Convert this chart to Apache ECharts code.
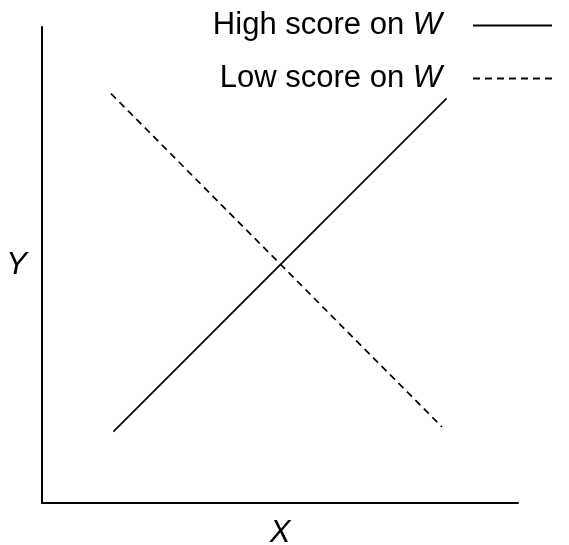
<!DOCTYPE html>
<html>
<head>
<meta charset="utf-8">
<script src="https://cdn.jsdelivr.net/npm/echarts@6/dist/echarts.min.js"></script>
<style>
html,body{margin:0;padding:0;background:#fff;}
#c{width:569px;height:545px;}
</style>
</head>
<body>
<div id="c"></div>
<script>
const seriesNames = ['High score on W', 'Low score on W'];
const highX = [1.5, 8.5];
const highY = [1.5, 8.5];
const lowX = [1.45, 8.4];
const lowY = [8.6, 1.6];
const xName = 'X';
const yName = 'Y';

const font = 'Liberation Sans, Arial, Helvetica, sans-serif';
const chart = echarts.init(document.getElementById('c'));
const pairs = (xs, ys) => xs.map((x, i) => [x, ys[i]]);

chart.setOption({
  animation: false,
  backgroundColor: '#fff',
  grid: {left: 42, right: 51, top: 27, bottom: 42, outerBoundsMode: 'none', containLabel: false},
  legend: {
    orient: 'vertical',
    right: 11,
    top: 5,
    align: 'right',
    itemWidth: 79,
    itemHeight: 14,
    itemGap: 22,
    selectedMode: false,
    data: seriesNames,
    itemStyle: {opacity: 0},
    formatter: function (name) {
      const base = name.slice(0, name.length - 1);
      const last = name.slice(-1);
      return '{n|' + base + '}{i|' + last + '}';
    },
    textStyle: {
      padding: [0, 26, 0, 0],
      rich: {
        n: {fontFamily: font, fontSize: 31, color: '#000'},
        i: {fontFamily: font, fontSize: 31, fontStyle: 'italic', color: '#000'}
      }
    }
  },
  xAxis: {
    type: 'value', min: 0, max: 10,
    name: xName, nameLocation: 'middle', nameGap: 15,
    nameTextStyle: {fontFamily: font, fontSize: 31, fontStyle: 'italic', color: '#000'},
    axisLine: {lineStyle: {color: '#000', width: 2}},
    axisTick: {show: false}, axisLabel: {show: false}, splitLine: {show: false}
  },
  yAxis: {
    type: 'value', min: 0, max: 10,
    name: yName, nameLocation: 'middle', nameGap: 15, nameRotate: 0,
    nameTextStyle: {fontFamily: font, fontSize: 31, fontStyle: 'italic', color: '#000'},
    axisLine: {show: true, lineStyle: {color: '#000', width: 2}},
    axisTick: {show: false}, axisLabel: {show: false}, splitLine: {show: false}
  },
  series: [
    {
      name: seriesNames[0], type: 'line', data: pairs(highX, highY),
      symbol: 'none', lineStyle: {color: '#000', width: 1.7, type: 'solid'},
      itemStyle: {color: '#000'}
    },
    {
      name: seriesNames[1], type: 'line', data: pairs(lowX, lowY),
      symbol: 'none', lineStyle: {color: '#000', width: 1.7, type: [7, 5]},
      itemStyle: {color: '#000'}
    }
  ]
});
</script>
</body>
</html>
